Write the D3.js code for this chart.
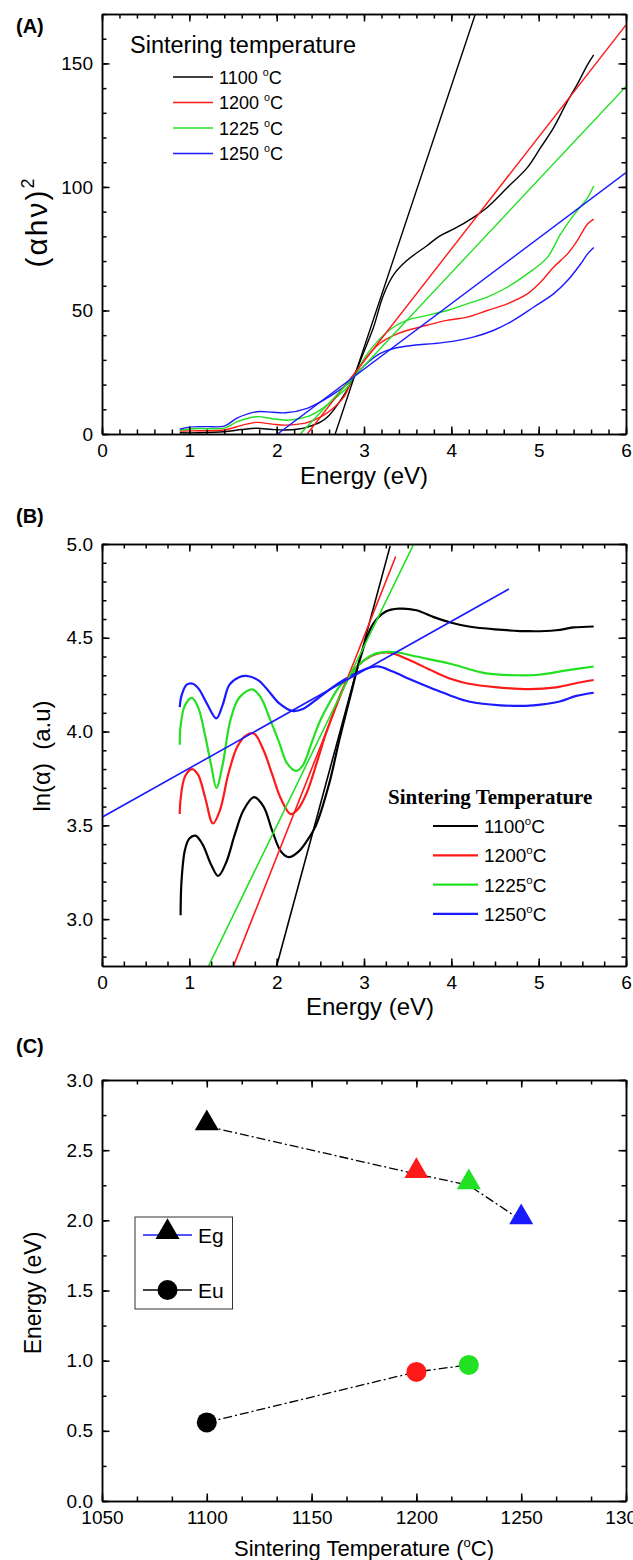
<!DOCTYPE html>
<html>
<head>
<meta charset="utf-8">
<script src="https://cdn.jsdelivr.net/npm/d3@7"></script>
<style>
  body { margin: 0; background: #fff; }
  svg text { font-family: Arial, "Liberation Sans", sans-serif; fill: #000; }
  .ax path, .ax line { stroke: #000; stroke-width: 1.5; }
</style>
</head>
<body>
<svg id="fig" width="633" height="1560"></svg>
<script>
// ---- data ----
const temps = ['1100', '1200', '1225', '1250'];

// (A) Tauc plot (alpha h nu)^2 vs energy
const tauc1100 = [[0.89,0.5],[1.1,0.5],[1.4,0.9],[1.6,1.8],[1.77,2.3],[1.95,1.8],[2.1,1.6],[2.25,2.0],[2.35,2.8],[2.5,4.8],[2.6,7.5],[2.7,12],[2.8,17.5],[2.88,23],[2.99,32.5],[3.11,43.3],[3.22,56],[3.34,64.5],[3.49,70.2],[3.72,76.2],[3.87,80.2],[4.03,83],[4.25,87.6],[4.41,91.7],[4.64,99.7],[4.87,107.8],[5.02,115.8],[5.17,123.9],[5.33,134.7],[5.44,141.4],[5.56,149.5],[5.63,153.5]];
const tauc1200 = [[0.89,1.2],[1.1,1.3],[1.4,1.6],[1.6,3.5],[1.77,4.7],[1.95,4.0],[2.1,3.6],[2.25,4.0],[2.35,4.6],[2.52,7.2],[2.65,10.5],[2.77,15],[2.88,23],[3.03,31],[3.18,36.6],[3.34,39.9],[3.49,41.9],[3.72,44],[3.95,46],[4.18,47.3],[4.41,50],[4.64,52.7],[4.87,56.7],[5.02,61.4],[5.17,67.5],[5.33,72.9],[5.44,78.2],[5.56,85],[5.63,87]];
const tauc1225 = [[0.89,1.6],[1.1,2.2],[1.4,2.4],[1.55,5],[1.77,7.0],[1.95,6.2],[2.14,5.6],[2.35,7.0],[2.5,9.8],[2.6,12.4],[2.72,16],[2.8,18.5],[2.88,23],[3.03,32],[3.18,38.5],[3.34,43.3],[3.49,46],[3.72,48],[3.95,50],[4.18,52.7],[4.41,55.4],[4.64,59.4],[4.87,64.8],[5.1,71.5],[5.25,80.9],[5.41,89],[5.56,95.7],[5.63,100.4]];
const tauc1250 = [[0.89,2.0],[1.0,2.8],[1.2,3.0],[1.4,3.2],[1.55,6.5],[1.77,9.0],[1.95,8.8],[2.1,8.6],[2.35,10.4],[2.6,15],[2.82,20.5],[2.88,23],[3.03,28.5],[3.18,32.5],[3.34,34.6],[3.57,35.9],[3.8,36.6],[4.03,37.6],[4.25,39.2],[4.48,41.9],[4.71,46],[4.94,51.3],[5.17,56.7],[5.33,62.1],[5.48,68.8],[5.56,72.9],[5.63,75.5]];
// linear fits (end points)
const taucFit1100 = [[2.67,0],[4.275,170]];
const taucFit1200 = [[2.35,0],[6,165.6]];
const taucFit1225 = [[2.27,0],[6,140.7]];
const taucFit1250 = [[2.01,0],[6,105.8]];

// (B) ln(alpha) vs energy
const lnA1100 = [[0.9,3.02],[0.91,3.2],[0.95,3.37],[1.0,3.43],[1.07,3.445],[1.15,3.40],[1.25,3.29],[1.33,3.23],[1.42,3.30],[1.52,3.45],[1.62,3.58],[1.74,3.65],[1.85,3.60],[1.95,3.47],[2.05,3.36],[2.14,3.33],[2.25,3.36],[2.35,3.42],[2.45,3.50],[2.6,3.72],[2.72,3.96],[2.85,4.2],[2.95,4.38],[3.1,4.57],[3.25,4.64],[3.4,4.655],[3.6,4.647],[3.8,4.61],[4.0,4.58],[4.2,4.56],[4.5,4.545],[4.9,4.535],[5.2,4.54],[5.4,4.555],[5.63,4.56]];
const lnA1200 = [[0.89,3.56],[0.9,3.64],[0.95,3.76],[1.03,3.80],[1.1,3.77],[1.18,3.65],[1.27,3.51],[1.35,3.58],[1.45,3.78],[1.55,3.92],[1.65,3.98],[1.74,3.99],[1.85,3.90],[1.95,3.77],[2.05,3.64],[2.16,3.56],[2.25,3.59],[2.35,3.68],[2.45,3.82],[2.55,3.97],[2.65,4.1],[2.75,4.22],[2.87,4.32],[3.0,4.38],[3.15,4.415],[3.3,4.42],[3.5,4.385],[3.8,4.32],[4.0,4.28],[4.2,4.255],[4.5,4.237],[4.9,4.226],[5.2,4.236],[5.45,4.26],[5.63,4.275]];
const lnA1225 = [[0.89,3.93],[0.9,4.03],[0.95,4.14],[1.03,4.18],[1.1,4.13],[1.18,3.98],[1.25,3.82],[1.31,3.70],[1.38,3.82],[1.47,4.06],[1.57,4.18],[1.72,4.225],[1.82,4.18],[1.92,4.07],[2.03,3.94],[2.12,3.83],[2.22,3.79],[2.3,3.82],[2.4,3.94],[2.5,4.06],[2.6,4.15],[2.72,4.24],[2.85,4.3],[2.95,4.36],[3.1,4.41],[3.25,4.425],[3.4,4.42],[3.6,4.40],[4.0,4.36],[4.4,4.31],[4.8,4.30],[5.0,4.303],[5.3,4.325],[5.63,4.347]];
const lnA1250 = [[0.89,4.13],[0.91,4.19],[0.97,4.25],[1.04,4.255],[1.11,4.226],[1.2,4.15],[1.31,4.07],[1.38,4.14],[1.46,4.25],[1.57,4.29],[1.68,4.295],[1.8,4.27],[1.9,4.22],[2.03,4.15],[2.18,4.11],[2.3,4.12],[2.48,4.18],[2.7,4.255],[2.95,4.32],[3.15,4.347],[3.33,4.32],[3.52,4.28],[3.8,4.226],[4.0,4.19],[4.2,4.16],[4.56,4.14],[4.94,4.14],[5.24,4.16],[5.43,4.19],[5.63,4.207]];
const lnFit1100 = [[2.0,2.75],[3.30,4.99]];
const lnFit1200 = [[1.506,2.75],[3.363,4.933]];
const lnFit1225 = [[1.22,2.75],[3.57,5.0]];
const lnFit1250 = [[0,3.543],[4.66,4.76]];

// (C) Eg and Eu vs sintering temperature
const egTemp = [1100, 1200, 1225, 1250];
const egVal  = [2.67, 2.33, 2.25, 2.0];
const euTemp = [1100, 1200, 1225];
const euVal  = [0.56, 0.92, 0.97];

// ---- style ----
const colors = ['#000000', '#ff1a1a', '#22e022', '#1a1aff'];

const svg = d3.select('#fig');

function drawFrame(g, x, y, t) {
  const [xl, xr] = x.range(), [yb, yt] = y.range();
  const add = (axis, tx, ty) => g.append('g').attr('class', 'ax')
    .attr('transform', `translate(${tx},${ty})`).call(axis)
    .attr('font-size', 19).attr('font-family', 'Arial, "Liberation Sans", sans-serif');
  const mk = (fn, sc, vals, size, fmt, pad) => fn(sc).tickValues(vals)
    .tickSizeInner(-size).tickSizeOuter(0).tickPadding(pad || 0)
    .tickFormat(fmt || (() => ''));
  add(mk(d3.axisBottom, x, t.xMinor, 4.5), 0, yb);
  add(mk(d3.axisTop, x, t.xMinor, 4.5), 0, yt);
  add(mk(d3.axisLeft, y, t.yMinor, 4.5), xl, 0);
  add(mk(d3.axisRight, y, t.yMinor, 4.5), xr, 0);
  add(mk(d3.axisBottom, x, t.xMajor, 7.5, t.xFmt, 10), 0, yb);
  add(mk(d3.axisTop, x, t.xMajor, 7.5), 0, yt);
  add(mk(d3.axisLeft, y, t.yMajor, 7.5, t.yFmt, 9), xl, 0);
  add(mk(d3.axisRight, y, t.yMajor, 7.5), xr, 0);
}

function clip(id, x, y) {
  svg.append('clipPath').attr('id', id).append('rect')
    .attr('x', x.range()[0]).attr('y', y.range()[1])
    .attr('width', x.range()[1] - x.range()[0])
    .attr('height', y.range()[0] - y.range()[1]);
}

function degLabel(sel, num, gap, size) {
  sel.text(num + gap);
  sel.append('tspan').attr('font-size', size * 0.6).attr('dy', -size * 0.42).text('o');
  sel.append('tspan').attr('dy', size * 0.42).text('C');
}

function panelTag(txt, yy) {
  svg.append('text').attr('x', 16).attr('y', yy)
    .attr('font-size', 20).attr('font-weight', 'bold').text(txt);
}

// ================= (A) =================
{
  const x = d3.scaleLinear().domain([0, 6]).range([102, 626]);
  const y = d3.scaleLinear().domain([0, 170]).range([434, 14]);
  clip('clipA', x, y);
  const line = d3.line().x(d => x(d[0])).y(d => y(d[1]));
  const smooth = d3.line().x(d => x(d[0])).y(d => y(d[1])).curve(d3.curveCatmullRom);
  const g = svg.append('g');
  const plot = g.append('g').attr('clip-path', 'url(#clipA)');
  [tauc1100, tauc1200, tauc1225, tauc1250].forEach((s, i) =>
    plot.append('path').attr('d', smooth(s)).attr('fill', 'none')
      .attr('stroke', colors[i]).attr('stroke-width', 1.4));
  [taucFit1100, taucFit1200, taucFit1225, taucFit1250].forEach((s, i) =>
    plot.append('path').attr('d', line(s)).attr('fill', 'none')
      .attr('stroke', colors[i]).attr('stroke-width', 1.4));
  drawFrame(g, x, y, {
    xMajor: d3.range(0, 7), xMinor: d3.range(0, 30.5).map(v => v * 0.2), xFmt: d3.format('d'),
    yMajor: [0, 50, 100, 150], yMinor: d3.range(0, 171, 10), yFmt: d3.format('d')
  });
  panelTag('(A)', 33);
  // axis titles
  const yl = g.append('text').attr('transform', 'translate(47,222) rotate(-90)')
    .attr('text-anchor', 'middle').attr('font-size', 30).attr('letter-spacing', 2);
  yl.append('tspan').text('(\u03b1h\u03bd)');
  yl.append('tspan').attr('font-size', 18).attr('dy', -13).text('2');
  g.append('text').attr('x', 364).attr('y', 484).attr('text-anchor', 'middle')
    .attr('font-size', 24).text('Energy (eV)');
  // legend
  g.append('text').attr('x', 130).attr('y', 53).attr('font-size', 23.5).text('Sintering temperature');
  temps.forEach((t, i) => {
    const ly = 77 + i * 25.5;
    g.append('line').attr('x1', 173).attr('x2', 213).attr('y1', ly).attr('y2', ly)
      .attr('stroke', colors[i]).attr('stroke-width', 1.4);
    degLabel(g.append('text').attr('x', 219).attr('y', ly + 6.5).attr('font-size', 18), t, ' ', 18);
  });
}

// ================= (B) =================
{
  const x = d3.scaleLinear().domain([0, 6]).range([102, 626]);
  const y = d3.scaleLinear().domain([2.75, 5.0]).range([966, 544]);
  clip('clipB', x, y);
  const line = d3.line().x(d => x(d[0])).y(d => y(d[1]));
  const smooth = d3.line().x(d => x(d[0])).y(d => y(d[1])).curve(d3.curveCatmullRom);
  const g = svg.append('g');
  const plot = g.append('g').attr('clip-path', 'url(#clipB)');
  [lnA1100, lnA1200, lnA1225, lnA1250].forEach((s, i) =>
    plot.append('path').attr('d', smooth(s)).attr('fill', 'none')
      .attr('stroke', colors[i]).attr('stroke-width', 2.2));
  [lnFit1100, lnFit1200, lnFit1225, lnFit1250].forEach((s, i) =>
    plot.append('path').attr('d', line(s)).attr('fill', 'none')
      .attr('stroke', colors[i]).attr('stroke-width', 1.6));
  drawFrame(g, x, y, {
    xMajor: d3.range(0, 7), xMinor: d3.range(0, 24.5).map(v => v * 0.25), xFmt: d3.format('d'),
    yMajor: [3.0, 3.5, 4.0, 4.5, 5.0], yMinor: d3.range(28, 50.5).map(v => v / 10), yFmt: d3.format('.1f')
  });
  panelTag('(B)', 523);
  g.append('text').attr('transform', 'translate(50,756) rotate(-90)')
    .attr('text-anchor', 'middle').attr('font-size', 24).attr('xml:space', 'preserve')
    .text('ln(\u03b1)  (a.u)');
  g.append('text').attr('x', 370).attr('y', 1015).attr('text-anchor', 'middle')
    .attr('font-size', 24).text('Energy (eV)');
  g.append('text').attr('x', 388).attr('y', 804).attr('font-size', 21)
    .attr('font-weight', 'bold').style('font-family', '"Liberation Serif", "Times New Roman", serif')
    .text('Sintering Temperature');
  temps.forEach((t, i) => {
    const ly = 826 + i * 29.3;
    g.append('line').attr('x1', 433).attr('x2', 478).attr('y1', ly).attr('y2', ly)
      .attr('stroke', colors[i]).attr('stroke-width', 2.2);
    degLabel(g.append('text').attr('x', 484).attr('y', ly + 7).attr('font-size', 19), t, '', 19);
  });
}

// ================= (C) =================
{
  const x = d3.scaleLinear().domain([1050, 1300]).range([102, 626]);
  const y = d3.scaleLinear().domain([0, 3]).range([1501, 1080]);
  const g = svg.append('g');
  drawFrame(g, x, y, {
    xMajor: d3.range(1050, 1301, 50), xMinor: d3.range(0, 15.5).map(v => 1050 + v * 50 / 3), xFmt: d3.format('d'),
    yMajor: d3.range(0, 6.5).map(v => v * 0.5), yMinor: d3.range(0, 12.5).map(v => v * 0.25), yFmt: d3.format('.1f')
  });
  const eg = egTemp.map((t, i) => [t, egVal[i]]);
  const eu = euTemp.map((t, i) => [t, euVal[i]]);
  const line = d3.line().x(d => x(d[0])).y(d => y(d[1]));
  [eg, eu].forEach(s => g.append('path').attr('d', line(s)).attr('fill', 'none')
    .attr('stroke', '#000').attr('stroke-width', 1.3).attr('stroke-dasharray', '9,3,2,3'));
  const tri = d3.symbol().type(d3.symbolTriangle).size(250);
  eg.forEach((d, i) => g.append('path').attr('d', tri())
    .attr('transform', `translate(${x(d[0])},${y(d[1]) - 3})`).attr('fill', colors[i]));
  eu.forEach((d, i) => g.append('circle').attr('cx', x(d[0])).attr('cy', y(d[1]))
    .attr('r', 10).attr('fill', colors[i]));
  panelTag('(C)', 1053);
  g.append('text').attr('transform', 'translate(41,1293) rotate(-90)')
    .attr('text-anchor', 'middle').attr('font-size', 23).text('Energy (eV)');
  const xl = g.append('text').attr('x', 364).attr('y', 1556).attr('text-anchor', 'middle')
    .attr('font-size', 22);
  xl.append('tspan').text('Sintering Temperature (');
  xl.append('tspan').attr('font-size', 13).attr('dy', -9).text('o');
  xl.append('tspan').attr('dy', 9).text('C)');
  // legend
  g.append('rect').attr('x', 135).attr('y', 1217).attr('width', 97.5).attr('height', 92)
    .attr('fill', '#fff').attr('stroke', '#333').attr('stroke-width', 1);
  [['Eg', 1235, '#1a1aff', tri()], ['Eu', 1290, '#000', null]].forEach(([lab, ly, lc, sym]) => {
    g.append('line').attr('x1', 143).attr('x2', 192).attr('y1', ly).attr('y2', ly)
      .attr('stroke', lc).attr('stroke-width', 1.3);
    if (sym) g.append('path').attr('d', sym).attr('transform', `translate(167.5,${ly - 3})`).attr('fill', '#000');
    else g.append('circle').attr('cx', 167.5).attr('cy', ly).attr('r', 10).attr('fill', '#000');
    g.append('text').attr('x', 198).attr('y', ly + 8).attr('font-size', 21).text(lab);
  });
}
</script>
</body>
</html>
